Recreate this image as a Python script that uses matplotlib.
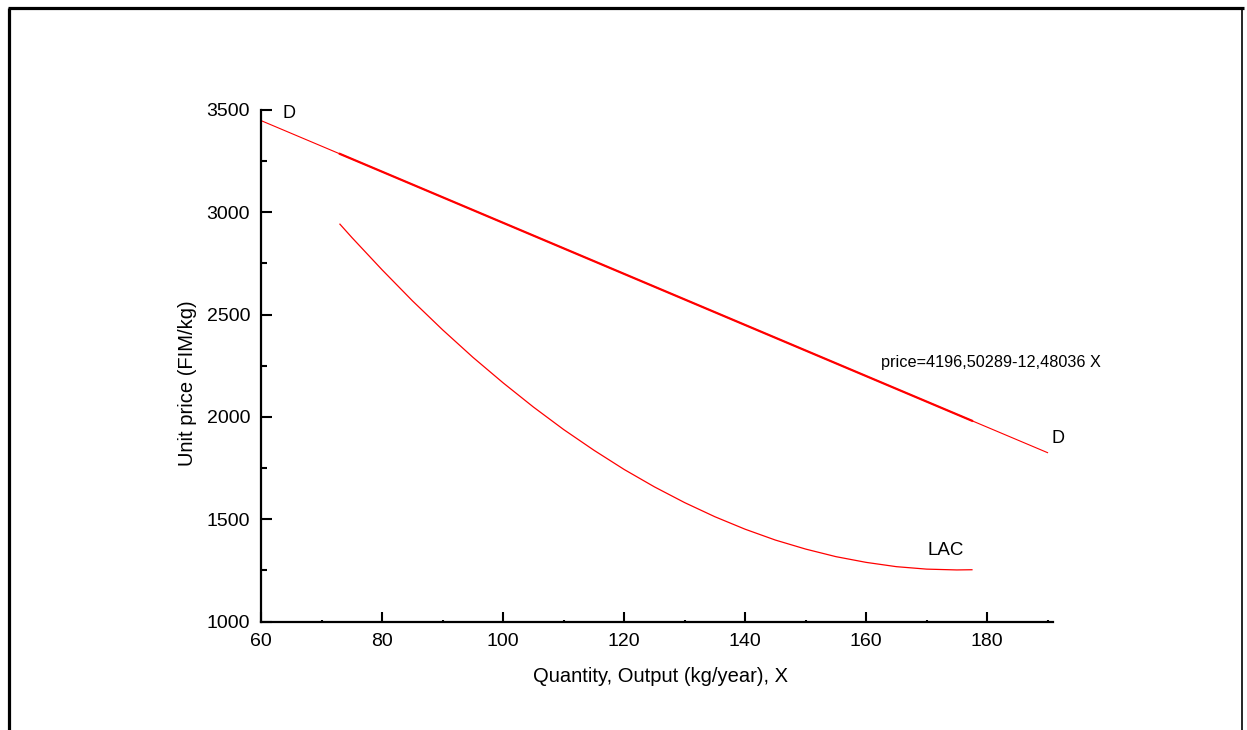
import matplotlib
matplotlib.use("Agg")
import matplotlib.pyplot as plt
from matplotlib.lines import Line2D
from matplotlib.ticker import MultipleLocator
from matplotlib import font_manager
import numpy as np

# Demand curve: price = a - b * X
demand_a = 4196.50289
demand_b = 12.48036
demand_x = [60, 190]
fit_x = [73, 177.5]

# Long-run average cost curve
lac_x = [73, 75, 80, 85, 90, 95, 100, 105, 110, 115, 120, 125, 130, 135,
         140, 145, 150, 155, 160, 165, 170, 175, 177.5]
lac_y = [2942, 2876, 2718, 2567, 2425, 2291, 2166, 2048, 1938, 1837, 1743,
         1658, 1581, 1512, 1451, 1398, 1354, 1317, 1289, 1268, 1256, 1252, 1253]

x_ticks = [60, 80, 100, 120, 140, 160, 180]
y_ticks = [1000, 1500, 2000, 2500, 3000, 3500]

names = {f.name for f in font_manager.fontManager.ttflist}
narrow = ["Liberation Sans Narrow", "Liberation Sans"] if "Liberation Sans Narrow" in names else ["Liberation Sans"]
regular = ["Liberation Sans", "DejaVu Sans"]

W, H = 1247, 730
fig = plt.figure(figsize=(W / 100, H / 100), dpi=100)
fig.patch.set_facecolor("white")

left_px, right_px, top_px, bot_px = 261.3, 1053.0, 110.0, 621.5
ax = fig.add_axes([left_px / W, 1 - bot_px / H, (right_px - left_px) / W, (bot_px - top_px) / H])
ax.set_xlim(60, 190.9)
ax.set_ylim(1000, 3500)

for s in ("top", "right"):
    ax.spines[s].set_visible(False)
for s in ("left", "bottom"):
    ax.spines[s].set_linewidth(1.6)
    ax.spines[s].set_color("black")

ax.set_xticks(x_ticks)
ax.set_yticks(y_ticks)
ax.xaxis.set_minor_locator(MultipleLocator(10))
ax.yaxis.set_minor_locator(MultipleLocator(250))
ax.tick_params(axis="y", which="major", direction="in", length=8, width=1.5, pad=8)
ax.tick_params(axis="y", which="minor", direction="in", length=4.3, width=1.5)
ax.tick_params(axis="x", which="major", direction="in", length=7, width=1.5, pad=8.5)
ax.tick_params(axis="x", which="minor", direction="in", length=1.2, width=1.5)
for lab in ax.get_xticklabels() + ax.get_yticklabels():
    lab.set_fontfamily(narrow)
    lab.set_fontsize(14)

# Demand line over the full range, and again over the fitted range
dx = np.array(demand_x, dtype=float)
ax.plot(dx, demand_a - demand_b * dx, color="#ff0000", lw=0.8, clip_on=False)
fx = np.array(fit_x, dtype=float)
ax.plot(fx, demand_a - demand_b * fx, color="#ff0000", lw=1.6)

ax.plot(lac_x, lac_y, color="#ff0000", lw=0.9)

ax.text(64.5, 3461, "D", fontfamily=regular, fontsize=13, ha="center", va="baseline")
ax.text(191.7, 1871, "D", fontfamily=regular, fontsize=13, ha="center", va="baseline", clip_on=False)
ax.text(162.5, 2245, "price=4196,50289-12,48036 X", fontfamily=narrow, fontsize=11.7,
        ha="left", va="baseline")
ax.text(170.1, 1325, "LAC", fontfamily=narrow, fontsize=13.5, ha="left", va="baseline")

fig.text(660 / W, 1 - 677 / H, "Quantity, Output (kg/year), X", fontfamily=regular,
         fontsize=14.5, ha="center", va="center")
fig.text(187 / W, 1 - 383 / H, "Unit price (FIM/kg)", fontfamily=regular,
         fontsize=14.5, ha="center", va="center", rotation=90)

# Page frame: heavy left and top edges, thin right edge
fig.add_artist(Line2D([9 / W, 9 / W], [0, 1 - 7.5 / H], color="black", lw=2.3, solid_capstyle="butt"))
fig.add_artist(Line2D([7.5 / W, 1 - 3 / W], [1 - 7.7 / H, 1 - 7.7 / H], color="black", lw=2.3, solid_capstyle="butt"))
fig.add_artist(Line2D([1 - 4.7 / W, 1 - 4.7 / W], [0, 1 - 7.5 / H], color="black", lw=1.2, solid_capstyle="butt"))

fig.savefig("out.png", dpi=100)
